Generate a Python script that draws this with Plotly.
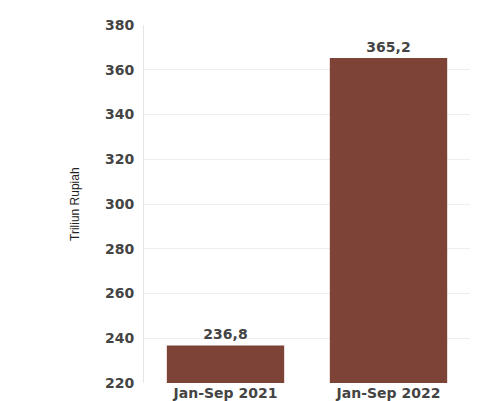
import plotly.graph_objects as go

categories = ["Jan-Sep 2021", "Jan-Sep 2022"]
values = [236.8, 365.2]
labels = ["236,8", "365,2"]
y_ticks = [220, 240, 260, 280, 300, 320, 340, 360, 380]

FONT = "DejaVu Sans, Verdana, sans-serif"
TXT = "#444444"

fig = go.Figure(go.Bar(
    x=categories, y=values, text=labels, textposition="outside",
    marker=dict(color="#7E4337", line=dict(width=0)),
    textfont=dict(family=FONT, size=14, color=TXT, weight="bold"),
    cliponaxis=False,
))
fig.update_layout(
    width=502, height=401,
    margin=dict(l=144, r=32, t=25, b=18),
    paper_bgcolor="white", plot_bgcolor="white",
    bargap=0.28, showlegend=False,
    font=dict(family=FONT, size=14, color=TXT),
)
fig.update_yaxes(range=[220, 380], tickvals=y_ticks, showgrid=True, gridcolor="#EEEEEE",
                 zeroline=False, showline=True, linecolor="#E6E6E6", linewidth=1,
                 ticks="", ticklabelstandoff=6, automargin=False,
                 tickfont=dict(family=FONT, size=14, color=TXT, weight="bold"))
fig.update_xaxes(showline=False, ticks="", automargin=False,
                 tickfont=dict(family=FONT, size=14, color=TXT, weight="bold"))
fig.add_annotation(text="Triliun Rupiah", textangle=-90, xref="paper", x=(75 - 144) / 326,
                   xanchor="center", yref="paper", y=0.5, showarrow=False,
                   font=dict(family="Liberation Sans Narrow, Liberation Sans", size=12, color="#222222"))
fig.write_html("out.html")
